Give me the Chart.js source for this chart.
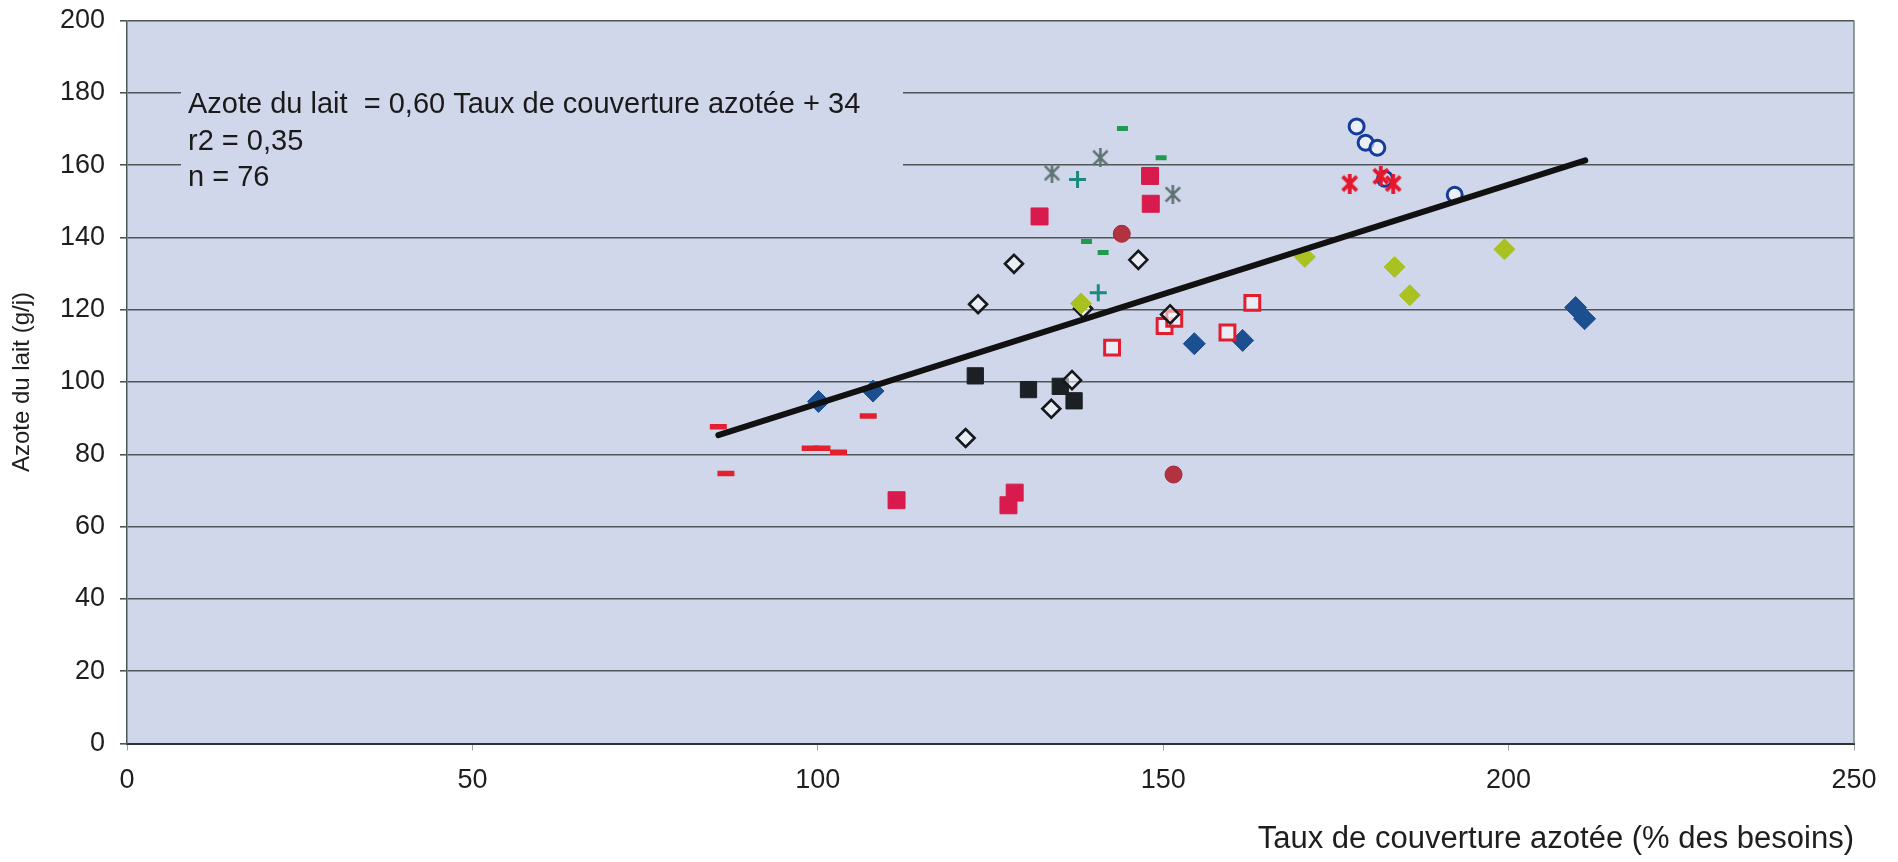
<!DOCTYPE html>
<html lang="fr">
<head>
<meta charset="UTF-8">
<title>Azote du lait et taux de couverture azotée</title>
<script src="https://cdn.jsdelivr.net/npm/chart.js@4.4.1/dist/chart.umd.min.js"></script>
<style>
  html, body { margin: 0; padding: 0; background: #ffffff; }
  #wrap { width: 1898px; height: 862px; }
</style>
</head>
<body>
<div id="wrap"><canvas id="chart" width="1898" height="862"></canvas></div>
<script>
// axes
const xTicks = [0, 50, 100, 150, 200, 250];
const yTicks = [0, 20, 40, 60, 80, 100, 120, 140, 160, 180, 200];

// regression line end points
const trendX = [85.6, 211.1];
const trendY = [85.3, 161.3];

// series, one marker style each
const redDashX = [85.6, 86.7, 98.9, 100.6, 103.0, 107.3];
const redDashY = [87.6, 74.7, 81.7, 81.7, 80.6, 90.6];

const blueDiamondX = [100.1, 108.0, 154.5, 161.5, 209.7, 211.0];
const blueDiamondY = [94.6, 97.5, 110.6, 111.5, 120.6, 117.5];

const crimsonSquareX = [111.4, 127.6, 128.5, 132.1, 148.1, 148.2];
const crimsonSquareY = [67.3, 65.9, 69.4, 145.8, 157.0, 149.3];

const openDiamondX = [121.4, 123.2, 128.4, 133.8, 136.8, 138.4, 146.4, 151.0];
const openDiamondY = [84.5, 121.5, 132.7, 92.6, 100.5, 120.3, 133.8, 118.7];

const blackSquareX = [122.8, 130.5, 135.1, 137.1];
const blackSquareY = [101.7, 97.9, 98.8, 94.8];

const openSquareX = [142.6, 150.2, 151.6, 159.3, 162.9];
const openSquareY = [109.5, 115.5, 117.5, 113.7, 121.9];

const yellowDiamondX = [138.1, 170.5, 183.5, 185.7, 199.4];
const yellowDiamondY = [121.7, 134.6, 131.8, 124.0, 136.7];

const greenDashX = [138.9, 141.3, 144.1, 149.7];
const greenDashY = [138.9, 135.8, 170.1, 162.0];

const tealPlusX = [137.6, 140.6];
const tealPlusY = [156.0, 124.7];

const grayStarX = [133.9, 140.9, 151.4];
const grayStarY = [157.8, 162.0, 151.9];

const brownCircleX = [144.0, 151.5];
const brownCircleY = [141.0, 74.4];

const blueCircleX = [178.0, 179.3, 181.0, 182.1, 192.2];
const blueCircleY = [170.7, 166.2, 164.8, 156.2, 151.8];

const redStarX = [177.0, 181.5, 183.3];
const redStarY = [154.9, 156.9, 154.9];

const noteLines = [
  'Azote du lait  = 0,60 Taux de couverture azotée + 34',
  'r2 = 0,35',
  'n = 76'
];

const FONT = '"Liberation Sans", Arial, Helvetica, sans-serif';
const PLOT_BG = '#d1d7ea';

function pts(xs, ys) {
  return xs.map((x, i) => ({ x: x, y: ys[i] }));
}

// Excel-like star marker: an X with a vertical stroke
function starMarker(color, size, lw) {
  const c = document.createElement('canvas');
  c.width = size;
  c.height = size;
  const g = c.getContext('2d');
  g.strokeStyle = color;
  g.lineWidth = lw;
  const m = lw / 2 + 1;
  g.beginPath();
  g.moveTo(m, m); g.lineTo(size - m, size - m);
  g.moveTo(size - m, m); g.lineTo(m, size - m);
  g.moveTo(size / 2, 0); g.lineTo(size / 2, size);
  g.stroke();
  return c;
}

function series(xs, ys, style, opts) {
  return Object.assign({
    data: pts(xs, ys),
    pointStyle: style,
    showLine: false
  }, opts);
}

// plot area background, right border and the equation box
const plotDecor = {
  id: 'plotDecor',
  beforeDraw(chart) {
    const { ctx, chartArea: a } = chart;
    ctx.save();
    ctx.fillStyle = PLOT_BG;
    ctx.fillRect(a.left, a.top, a.right - a.left, a.bottom - a.top);
    ctx.restore();
  },
  beforeDatasetsDraw(chart) {
    const { ctx, chartArea: a } = chart;
    ctx.save();
    ctx.strokeStyle = '#6f8080';
    ctx.lineWidth = 1.5;
    ctx.beginPath();
    ctx.moveTo(a.right, a.top);
    ctx.lineTo(a.right, a.bottom);
    ctx.stroke();

    // equation box hides the grid lines behind it
    ctx.fillStyle = PLOT_BG;
    ctx.fillRect(a.left + 54, a.top + 60, 722, 114);
    ctx.fillStyle = '#1a1a1a';
    ctx.font = '29px ' + FONT;
    ctx.textBaseline = 'middle';
    ctx.textAlign = 'left';
    noteLines.forEach((t, i) => {
      ctx.fillText(t, a.left + 61, a.top + 84.5 + i * 36.5);
    });
    ctx.restore();
  }
};

const datasets = [
  {
    data: pts(trendX, trendY),
    showLine: true,
    borderColor: '#111111',
    borderWidth: 6,
    pointRadius: 0,
    borderCapStyle: 'round'
  },
  series(redStarX, redStarY, starMarker('#e5172c', 20, 3.8), { pointRadius: 10 }),
  series(blueCircleX, blueCircleY, 'circle', {
    pointRadius: 7.5, borderColor: '#163c9a', borderWidth: 3,
    backgroundColor: 'rgba(255,255,255,0.6)'
  }),
  series(yellowDiamondX, yellowDiamondY, 'rectRot', {
    pointRadius: 10.5, backgroundColor: '#a9c222', borderColor: '#a9c222', borderWidth: 1
  }),
  series(openDiamondX, openDiamondY, 'rectRot', {
    pointRadius: 9, borderColor: '#15191c', borderWidth: 2.6,
    backgroundColor: 'rgba(255,255,255,0.55)'
  }),
  series(openSquareX, openSquareY, 'rect', {
    pointRadius: 10.5, borderColor: '#e01e2e', borderWidth: 3,
    backgroundColor: 'rgba(255,255,255,0.55)'
  }),
  series(blackSquareX, blackSquareY, 'rect', {
    pointRadius: 11.5, backgroundColor: '#1b2024', borderColor: '#1b2024', borderWidth: 1
  }),
  series(crimsonSquareX, crimsonSquareY, 'rect', {
    pointRadius: 12, backgroundColor: '#d81a4c', borderColor: '#d81a4c', borderWidth: 1
  }),
  series(blueDiamondX, blueDiamondY, 'rectRot', {
    pointRadius: 11, backgroundColor: '#1c4f8f', borderColor: '#1c4f8f', borderWidth: 1
  }),
  series(redDashX, redDashY, 'line', {
    pointRadius: 8.5, borderColor: '#e2202f', borderWidth: 5.5
  }),
  series(greenDashX, greenDashY, 'line', {
    pointRadius: 5.5, borderColor: '#1f9a50', borderWidth: 5
  }),
  series(tealPlusX, tealPlusY, 'cross', {
    pointRadius: 8.5, borderColor: '#1b8a7e', borderWidth: 3
  }),
  series(grayStarX, grayStarY, starMarker('#5f7272', 19, 2.6), { pointRadius: 9.5 }),
  series(brownCircleX, brownCircleY, 'circle', {
    pointRadius: 8.5, backgroundColor: '#b2323f', borderColor: '#a02a38', borderWidth: 1
  })
];

const tickFont = { family: FONT, size: 27 };

new Chart(document.getElementById('chart'), {
  type: 'scatter',
  data: { datasets: datasets },
  options: {
    responsive: false,
    animation: false,
    events: [],
    layout: { padding: { top: 20.5, right: 44, left: 0, bottom: 0 } },
    plugins: {
      legend: { display: false },
      tooltip: { enabled: false }
    },
    scales: {
      x: {
        type: 'linear',
        min: xTicks[0],
        max: xTicks[xTicks.length - 1],
        afterBuildTicks(scale) { scale.ticks = xTicks.map(v => ({ value: v })); },
        afterFit(scale) { scale.height = 118.5; },
        ticks: { font: tickFont, color: '#1e1e1e', padding: 14, maxRotation: 0 },
        grid: { drawOnChartArea: false, drawTicks: true, tickLength: 7, color: '#9aa4a4' },
        border: { display: true, color: '#2c3434', width: 2 },
        title: {
          display: true,
          text: 'Taux de couverture azotée (% des besoins)',
          align: 'end',
          color: '#1e1e1e',
          font: { family: FONT, size: 31 },
          padding: { top: 0, bottom: 4 }
        }
      },
      y: {
        type: 'linear',
        min: yTicks[0],
        max: yTicks[yTicks.length - 1],
        afterBuildTicks(scale) { scale.ticks = yTicks.map(v => ({ value: v })); },
        afterFit(scale) {
          scale.width = 127;
          scale.paddingTop = 0;
          scale.paddingBottom = 0;
        },
        ticks: { font: tickFont, color: '#1e1e1e', padding: 15 },
        grid: { color: '#4e5658', lineWidth: 1.6, tickLength: 7 },
        border: { display: true, color: '#4e5a5a', width: 1.5 },
        title: {
          display: true,
          text: 'Azote du lait (g/j)',
          color: '#1e1e1e',
          font: { family: FONT, size: 24 },
          padding: { top: 8, bottom: 0 }
        }
      }
    }
  },
  plugins: [plotDecor]
});
</script>
</body>
</html>
